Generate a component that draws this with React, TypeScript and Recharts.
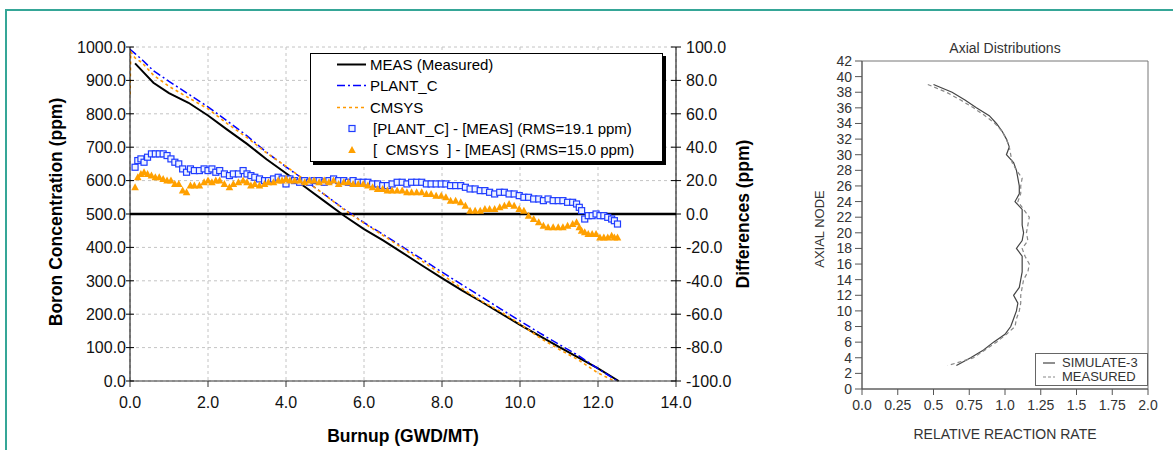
import React from 'react';
import {
  ComposedChart,
  LineChart,
  Line,
  Scatter,
  XAxis,
  YAxis,
  CartesianGrid,
  ReferenceLine,
  ReferenceArea,
  Legend,
} from 'recharts';

const FONT = '"Liberation Sans", Arial, Helvetica, sans-serif';

// ---- left panel: boron letdown curves ----
const BURNUP_TICKS = [0, 2, 4, 6, 8, 10, 12, 14];
const BORON_TICKS = [0, 100, 200, 300, 400, 500, 600, 700, 800, 900, 1000];
const DIFF_TICKS = [-100, -80, -60, -40, -20, 0, 20, 40, 60, 80, 100];

const MEAS_BURNUP = [0.13, 0.3, 0.6, 1.0, 1.5, 2.0, 2.5, 3.0, 3.5, 4.0, 4.5, 5.0, 5.5, 6.0, 6.5, 7.0, 7.5, 8.0, 8.5, 9.0, 9.5, 10.0, 10.5, 11.0, 11.5, 12.0, 12.53];
const MEAS = [951, 930, 893, 862, 833, 795, 752, 710, 664, 622, 580, 537, 494, 455, 420, 383, 345, 308, 272, 238, 203, 168, 135, 102, 70, 38, 0];

const PLANT_C_BURNUP = [0, 0.13, 0.3, 0.6, 1.0, 1.5, 2.0, 2.5, 3.0, 3.5, 4.0, 4.5, 5.0, 5.5, 6.0, 6.5, 7.0, 7.5, 8.0, 8.5, 9.0, 9.5, 10.0, 10.5, 11.0, 11.5, 12.0, 12.5];
const PLANT_C = [993, 980, 963, 929, 897, 859, 821, 778, 734, 685, 641, 600, 557, 514, 474, 438, 401, 364, 326, 289, 253, 216, 180, 144, 110, 76, 37, 0];

const CMSYS_BURNUP = [0, 0.02, 0.13, 0.3, 0.6, 1.0, 1.5, 2.0, 2.5, 3.0, 3.5, 4.0, 4.5, 5.0, 5.5, 6.0, 6.5, 7.0, 7.5, 8.0, 8.5, 9.0, 9.5, 10.0, 10.5, 11.0, 11.5, 12.0, 12.42];
const CMSYS = [858, 985, 967, 954, 916, 882, 848, 815, 770, 729, 683, 643, 600, 557, 512, 473, 435, 397, 358, 319, 278, 240, 208, 171, 130, 95, 63, 24, 0];

const DIFF_BURNUP = [
  0.13, 0.2, 0.28, 0.36, 0.45, 0.55, 0.65, 0.75, 0.85, 0.95,
  1.05, 1.15, 1.25, 1.35, 1.45, 1.55, 1.65, 1.78, 1.9, 2.0,
  2.1, 2.2, 2.3, 2.42, 2.55, 2.65, 2.78, 2.9, 3.0, 3.1,
  3.2, 3.32, 3.45, 3.55, 3.68, 3.8, 3.9, 4.0, 4.1, 4.22,
  4.35, 4.48, 4.6, 4.72, 4.85, 4.98, 5.1, 5.22, 5.35, 5.48,
  5.6, 5.72, 5.85, 5.98, 6.1, 6.22, 6.35, 6.48, 6.6, 6.72,
  6.85, 6.98, 7.1, 7.22, 7.35, 7.48, 7.6, 7.72, 7.85, 7.98,
  8.1, 8.22, 8.35, 8.48, 8.6, 8.72, 8.85, 8.98, 9.1, 9.22,
  9.35, 9.48, 9.6, 9.72, 9.85, 9.98, 10.1, 10.22, 10.35, 10.48,
  10.6, 10.72, 10.85, 10.98, 11.1, 11.22, 11.35, 11.45, 11.52, 11.58,
  11.66, 11.75, 11.85, 11.95, 12.05, 12.15, 12.25, 12.35, 12.42, 12.5,
];
const PLANT_C_DIFF = [
  28, 32, 33, 31, 34, 36, 36, 36, 36, 35,
  33, 31, 30, 27, 25, 27, 26, 26, 27, 26,
  27, 25, 26, 24, 23, 24, 24, 26, 24, 23,
  22, 21, 20, 20, 21, 22, 21, 18, 21, 20,
  19, 20, 19, 20, 20, 19, 20, 21, 20, 20,
  19, 20, 19, 19, 19, 18, 18, 17, 17, 18,
  19, 19, 18, 19, 19, 19, 18, 18, 18, 18,
  18, 17, 17, 17, 16, 15, 15, 14, 14, 13,
  12, 13, 13, 12, 12, 11, 10, 10, 9, 9,
  8, 9, 8, 8, 8, 7, 7, 6, 4, 2,
  -3, -1, -1, 0, -1, -1, -2, -3, -4, -6,
];
const CMSYS_DIFF = [
  16, 22, 24, 25, 24, 23, 22, 22, 21, 20,
  20, 18, 18, 14, 13, 17, 17, 17, 19, 20,
  19, 20, 20, 18, 16, 18, 19, 20, 19, 17,
  18, 17, 18, 19, 19, 20, 20, 21, 20, 20,
  20, 19, 20, 20, 19, 20, 19, 20, 18, 19,
  19, 18, 18, 18, 17, 16, 15, 15, 14, 14,
  14, 14, 13, 13, 13, 13, 12, 12, 11, 11,
  10, 8, 8, 7, 5, 2, 2, 2, 3, 3,
  3, 4, 5, 6, 5, 3, 2, -1, -3, -5,
  -7, -8, -8, -8, -8, -7, -6, -5, -8, -10,
  -11, -12, -12, -12, -14, -14, -14, -13, -14, -14,
];

// ---- right panel: axial distributions ----
const RATE_TICKS = [0, 0.25, 0.5, 0.75, 1, 1.25, 1.5, 1.75, 2];
const NODE_TICKS = [0, 2, 4, 6, 8, 10, 12, 14, 16, 18, 20, 22, 24, 26, 28, 30, 32, 34, 36, 38, 40, 42];

const AXIAL_NODE = [39, 38, 37, 36, 35, 34, 33, 32, 31, 30, 29, 28, 27, 26, 25, 24, 23, 22, 21, 20, 19, 18, 17, 16, 15, 14, 13, 12, 11, 10, 9, 8, 7, 6, 5, 4, 3];
const SIMULATE_3 = [0.5, 0.63, 0.72, 0.8, 0.89, 0.94, 0.98, 1.01, 1.03, 1.01, 1.06, 1.08, 1.09, 1.1, 1.1, 1.07, 1.12, 1.12, 1.12, 1.13, 1.12, 1.08, 1.12, 1.12, 1.12, 1.11, 1.1, 1.06, 1.09, 1.08, 1.06, 1.04, 1.0, 0.92, 0.85, 0.76, 0.66];
const MEASURED = [0.46, 0.59, 0.69, 0.78, 0.86, 0.93, 0.98, 1.01, 1.03, 1.04, 1.05, 1.08, 1.12, 1.11, 1.11, 1.09, 1.13, 1.17, 1.16, 1.15, 1.16, 1.12, 1.14, 1.17, 1.16, 1.13, 1.12, 1.11, 1.11, 1.1, 1.08, 1.07, 1.01, 0.94, 0.86, 0.78, 0.6];
const AXIAL_ORDER = ['SIMULATE-3', 'MEASURED'];

type SeriesStyle = { kind: 'line' | 'square' | 'triangle'; color: string; dash?: string; width?: number };

const SERIES_STYLE: Record<string, SeriesStyle> = {
  'MEAS (Measured)': { kind: 'line', color: '#000000', width: 2 },
  PLANT_C: { kind: 'line', color: '#0000ff', dash: '8 3 2 3', width: 1.5 },
  CMSYS: { kind: 'line', color: '#ff9900', dash: '3 3', width: 1.5 },
  '[PLANT_C] - [MEAS] (RMS=19.1 ppm)': { kind: 'square', color: '#1f3cff' },
  '[  CMSYS  ] - [MEAS] (RMS=15.0 ppm)': { kind: 'triangle', color: '#ffa000' },
};
const SERIES_ORDER = Object.keys(SERIES_STYLE);

const fmt1 = (v: number) => v.toFixed(1);
const fmtRate = (v: number) => (Number.isInteger(v) ? v.toFixed(1) : String(v));

const TS = 4;
const TM = 4;
const TICK_FONT = 16;

function LeftTick(props: any) {
  const { x, y, payload } = props;
  const ax = x + TS + TM;
  return (
    <g>
      <line x1={ax - 4} x2={ax + 4} y1={y} y2={y} stroke="#000" />
      <text x={ax - 4} y={y} dy="0.36em" textAnchor="end" fontSize={TICK_FONT} fontFamily={FONT} fill="#111">
        {fmt1(payload.value)}
      </text>
    </g>
  );
}

function RightTick(props: any) {
  const { x, y, payload } = props;
  const ax = x - TS - TM;
  return (
    <g>
      <line x1={ax - 5} x2={ax + 5} y1={y} y2={y} stroke="#000" />
      <text x={ax + 10} y={y} dy="0.36em" textAnchor="start" fontSize={TICK_FONT} fontFamily={FONT} fill="#111">
        {fmt1(payload.value)}
      </text>
    </g>
  );
}

function SquareDot({ cx, cy }: any) {
  if (cx == null || cy == null) return <g />;
  return <rect x={cx - 3} y={cy - 3} width={6} height={6} fill="#eef3ff" stroke="#1f3cff" strokeWidth={1.2} />;
}

function TriangleDot({ cx, cy }: any) {
  if (cx == null || cy == null) return <g />;
  return <path d={`M${cx},${cy - 4}L${cx + 3.8},${cy + 3}L${cx - 3.8},${cy + 3}Z`} fill="#ffa000" />;
}

function LegendIcon({ style }: { style: SeriesStyle }) {
  if (style.kind === 'line') {
    return (
      <svg width={59} height={21} style={{ flex: 'none' }}>
        <line x1={26} x2={55} y1={10.5} y2={10.5} stroke={style.color} strokeWidth={style.width} strokeDasharray={style.dash} />
      </svg>
    );
  }
  return (
    <svg width={62} height={21} style={{ flex: 'none' }}>
      {style.kind === 'square' ? <SquareDot cx={41} cy={10.5} /> : <TriangleDot cx={41} cy={11} />}
    </svg>
  );
}

function BoronLegend(props: any) {
  const items = [...(props.payload ?? [])]
    .filter((p: any) => SERIES_STYLE[p.value])
    .sort((a: any, b: any) => SERIES_ORDER.indexOf(a.value) - SERIES_ORDER.indexOf(b.value));
  return (
    <div
      style={{
        width: 353,
        height: 109,
        boxSizing: 'border-box',
        border: '1.5px solid #000',
        boxShadow: '3px 3px 0 #000',
        background: '#fff',
        fontFamily: FONT,
        fontSize: 15,
        color: '#000',
      }}
    >
      {items.map((item: any) => (
        <div key={item.value} style={{ display: 'flex', alignItems: 'center', height: 21.3 }}>
          <LegendIcon style={SERIES_STYLE[item.value]} />
          <span style={{ whiteSpace: 'pre', lineHeight: '15px' }}>{item.value}</span>
        </div>
      ))}
    </div>
  );
}

function AxialLegend(props: any) {
  const items = [...(props.payload ?? [])].sort(
    (a: any, b: any) => AXIAL_ORDER.indexOf(a.value) - AXIAL_ORDER.indexOf(b.value),
  );
  return (
    <div
      style={{
        width: 113,
        height: 33,
        boxSizing: 'border-box',
        border: '1px solid #666',
        background: '#fff',
        fontFamily: FONT,
        fontSize: 13,
        color: '#333',
        paddingTop: 1.5,
      }}
    >
      {items.map((item: any) => (
        <div key={item.value} style={{ display: 'flex', alignItems: 'center', height: 14.5 }}>
          <svg width={26} height={12} style={{ flex: 'none' }}>
            <line x1={7} x2={19} y1={6} y2={6} stroke={item.color} strokeWidth={1.2} strokeDasharray={item.value === 'MEASURED' ? '3 2' : undefined} />
          </svg>
          <span style={{ lineHeight: '14px' }}>{item.value}</span>
        </div>
      ))}
    </div>
  );
}

function BoronChart() {
  const measData = MEAS_BURNUP.map((x, i) => ({ x, y: MEAS[i] }));
  const plantData = PLANT_C_BURNUP.map((x, i) => ({ x, y: PLANT_C[i] }));
  const cmsysData = CMSYS_BURNUP.map((x, i) => ({ x, y: CMSYS[i] }));
  const plantDiff = DIFF_BURNUP.map((x, i) => ({ x, y: PLANT_C_DIFF[i] }));
  const cmsysDiff = DIFF_BURNUP.map((x, i) => ({ x, y: CMSYS_DIFF[i] }));

  return (
    <ComposedChart width={760} height={450} margin={{ top: 47, right: 4, bottom: 0, left: 0 }}>
      <CartesianGrid yAxisId="left" stroke="#c4c4c4" strokeDasharray="3 3" />
      <XAxis
        dataKey="x"
        type="number"
        domain={[0, 14]}
        ticks={BURNUP_TICKS}
        interval={0}
        allowDataOverflow
        tickFormatter={fmt1}
        height={69}
        tickSize={6}
        tickMargin={10}
        stroke="#333"
        tick={{ fontSize: TICK_FONT, fill: '#111', fontFamily: FONT }}
      />
      <YAxis
        yAxisId="left"
        type="number"
        domain={[0, 1000]}
        ticks={BORON_TICKS}
        interval={0}
        width={130}
        tickSize={TS}
        tickMargin={TM}
        tickLine={false}
        stroke="#000"
        tick={<LeftTick />}
      />
      <YAxis
        yAxisId="right"
        orientation="right"
        type="number"
        domain={[-100, 100]}
        ticks={DIFF_TICKS}
        interval={0}
        width={80}
        tickSize={TS}
        tickMargin={TM}
        tickLine={false}
        stroke="#000"
        tick={<RightTick />}
      />
      <ReferenceLine yAxisId="right" y={0} stroke="#000" strokeWidth={2.5} />
      <Line yAxisId="left" data={measData} dataKey="y" name="MEAS (Measured)" type="linear" stroke="#000" strokeWidth={2} dot={false} isAnimationActive={false} legendType="line" />
      <Line yAxisId="left" data={plantData} dataKey="y" name="PLANT_C" type="linear" stroke="#0000ff" strokeWidth={1.5} strokeDasharray="8 3 2 3" dot={false} isAnimationActive={false} legendType="line" />
      <Line yAxisId="left" data={cmsysData} dataKey="y" name="CMSYS" type="linear" stroke="#ff9900" strokeWidth={1.6} strokeDasharray="3 3" dot={false} isAnimationActive={false} legendType="line" />
      <Scatter yAxisId="right" data={plantDiff} dataKey="y" name="[PLANT_C] - [MEAS] (RMS=19.1 ppm)" fill="#1f3cff" shape={<SquareDot />} isAnimationActive={false} legendType="square" />
      <Scatter yAxisId="right" data={cmsysDiff} dataKey="y" name="[  CMSYS  ] - [MEAS] (RMS=15.0 ppm)" fill="#ffa000" shape={<TriangleDot />} isAnimationActive={false} legendType="triangle" />
      <Legend
        layout="vertical"
        align="center"
        verticalAlign="middle"
        content={<BoronLegend />}
        wrapperStyle={{ left: 310, top: 53, width: 353, height: 109 }}
      />
    </ComposedChart>
  );
}

function AxialChart() {
  const data = AXIAL_NODE.map((node, i) => ({ node, sim: SIMULATE_3[i], meas: MEASURED[i] }));
  return (
    <LineChart layout="vertical" width={400} height={450} data={data} margin={{ top: 61, right: 22, bottom: 0, left: 0 }}>
      <XAxis
        type="number"
        domain={[0, 2]}
        ticks={RATE_TICKS}
        interval={0}
        tickFormatter={fmtRate}
        height={61}
        tickSize={6}
        tickMargin={5}
        stroke="#555"
        tick={{ fontSize: 14, fill: '#333', fontFamily: FONT }}
      />
      <YAxis
        type="number"
        dataKey="node"
        domain={[0, 42]}
        ticks={NODE_TICKS}
        interval={0}
        reversed
        width={92}
        tickSize={7}
        tickMargin={3}
        stroke="#555"
        tick={{ fontSize: 14, fill: '#333', fontFamily: FONT }}
      />
      <ReferenceArea x1={0} x2={2} y1={0} y2={42} fill="none" stroke="#777" strokeWidth={1} />
      <Line dataKey="sim" name="SIMULATE-3" type="linear" stroke="#444" strokeWidth={1.2} dot={false} isAnimationActive={false} />
      <Line dataKey="meas" name="MEASURED" type="linear" stroke="#888" strokeWidth={1.2} strokeDasharray="4 3" dot={false} isAnimationActive={false} />
      <Legend
        layout="vertical"
        align="center"
        verticalAlign="middle"
        content={<AxialLegend />}
        wrapperStyle={{ left: 265, top: 353, width: 113, height: 33 }}
      />
    </LineChart>
  );
}

function Title({ text, cx, cy, size, bold, rotate, color }: { text: string; cx: number; cy: number; size: number; bold?: boolean; rotate?: boolean; color?: string }) {
  return (
    <div
      style={{
        position: 'absolute',
        left: cx,
        top: cy,
        transform: `translate(-50%, -50%)${rotate ? ' rotate(-90deg)' : ''}`,
        whiteSpace: 'nowrap',
        fontFamily: FONT,
        fontSize: size,
        fontWeight: bold ? 'bold' : 'normal',
        color: color ?? '#000',
        lineHeight: 1,
      }}
    >
      {text}
    </div>
  );
}

export default function App() {
  return (
    <div style={{ position: 'fixed', left: 0, top: 0, width: 1173, height: 450, background: '#fff', overflow: 'hidden' }}>
      <div style={{ position: 'absolute', left: 5, top: 9, width: 1175, height: 470, border: '2px solid #35a697', boxSizing: 'border-box' }} />
      <div style={{ position: 'absolute', left: 0, top: 0 }}>
        <BoronChart />
      </div>
      <div style={{ position: 'absolute', left: 770, top: 0 }}>
        <AxialChart />
      </div>
      <Title text="Boron Concentration (ppm)" cx={57} cy={212} size={17.5} bold rotate />
      <Title text="Differences (ppm)" cx={744} cy={214} size={17.5} bold rotate />
      <Title text="Burnup (GWD/MT)" cx={403} cy={437} size={17.5} bold />
      <Title text="Axial Distributions" cx={1005} cy={48} size={14} color="#333" />
      <Title text="AXIAL NODE" cx={819} cy={229} size={13} color="#333" rotate />
      <Title text="RELATIVE REACTION RATE" cx={1005} cy={434} size={14} color="#333" />
    </div>
  );
}
